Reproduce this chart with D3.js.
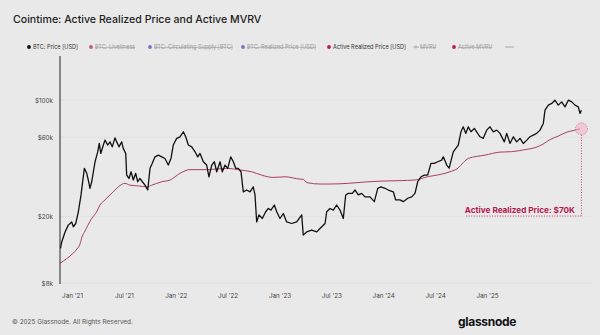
<!DOCTYPE html>
<html><head><meta charset="utf-8">
<script src="https://cdn.jsdelivr.net/npm/d3@7"></script>
<style>
html,body{margin:0;padding:0;background:#e9e9e9;}
svg{display:block;font-family:Inter,"Noto Sans",sans-serif;}
</style></head><body>
<div id="chart"></div>
<script>
// ---- data (time as decimal year, values in USD) ----
const priceYears = [2020.889,2020.901,2020.933,2020.964,2020.997,2021.013,2021.036,2021.061,2021.087,2021.119,2021.142,2021.157,2021.173,2021.190,2021.222,2021.248,2021.263,2021.277,2021.302,2021.318,2021.344,2021.366,2021.388,2021.414,2021.431,2021.453,2021.479,2021.494,2021.518,2021.527,2021.549,2021.569,2021.591,2021.614,2021.633,2021.655,2021.678,2021.704,2021.730,2021.752,2021.774,2021.800,2021.832,2021.865,2021.896,2021.928,2021.954,2021.976,2022.009,2022.041,2022.073,2022.096,2022.121,2022.154,2022.186,2022.212,2022.234,2022.266,2022.298,2022.320,2022.347,2022.372,2022.395,2022.427,2022.449,2022.475,2022.501,2022.530,2022.555,2022.578,2022.603,2022.629,2022.651,2022.684,2022.716,2022.747,2022.764,2022.780,2022.802,2022.834,2022.867,2022.892,2022.918,2022.950,2022.973,2023.005,2023.037,2023.069,2023.118,2023.166,2023.214,2023.229,2023.262,2023.310,2023.359,2023.390,2023.439,2023.455,2023.487,2023.519,2023.551,2023.583,2023.615,2023.638,2023.663,2023.702,2023.728,2023.760,2023.792,2023.824,2023.872,2023.914,2023.947,2023.978,2024.017,2024.049,2024.097,2024.120,2024.161,2024.193,2024.236,2024.274,2024.306,2024.332,2024.364,2024.396,2024.428,2024.460,2024.492,2024.525,2024.563,2024.579,2024.612,2024.635,2024.675,2024.723,2024.749,2024.771,2024.795,2024.820,2024.846,2024.878,2024.910,2024.933,2024.964,2024.997,2025.029,2025.061,2025.094,2025.125,2025.167,2025.190,2025.222,2025.254,2025.286,2025.318,2025.350,2025.383,2025.414,2025.446,2025.479,2025.511,2025.543,2025.559,2025.591,2025.624,2025.655,2025.687,2025.720,2025.752,2025.784,2025.817,2025.848,2025.880,2025.896,2025.910];
const priceUSD = [12900,14100,16200,17800,18600,17400,18200,21400,27000,39000,36400,33200,29600,32400,42700,49000,55000,47900,53800,57600,53800,56200,52500,59400,56200,52500,56200,51400,47900,35500,33900,37200,33200,36400,32400,33900,32400,30900,28900,39000,41800,45700,46800,45700,44700,40800,44700,53800,59000,60300,64600,60300,53800,52500,49000,45700,47900,42700,40800,34700,40800,42700,37200,42700,37200,40800,39000,45700,42700,39000,39000,37200,28200,28900,28200,30200,27000,18600,20500,19500,21400,22400,21900,23500,21400,19500,20900,18600,18200,18600,20500,15500,16200,16600,16200,17000,18200,21400,22400,21900,23500,21900,19500,27000,27600,27600,28900,27000,27600,26300,26300,24600,29600,30200,29600,28900,28200,25200,25200,24600,25800,26300,27600,32400,34700,35500,35500,41800,41800,42700,43700,45700,40800,39100,49000,53800,64600,69200,63200,69200,64600,67700,63200,60300,59000,66100,69200,64600,66100,63200,56200,63200,55000,60300,56200,59000,55000,57600,60300,61700,63200,66100,72500,87100,93400,95600,100000,93400,97700,91200,100000,97700,93400,91200,83300,87100];
const arpYears = [2020.884,2020.949,2021.013,2021.048,2021.077,2021.096,2021.125,2021.154,2021.190,2021.238,2021.270,2021.318,2021.398,2021.446,2021.511,2021.559,2021.639,2021.720,2021.768,2021.865,2021.945,2022.041,2022.137,2022.298,2022.491,2022.619,2022.732,2022.828,2022.940,2023.053,2023.198,2023.229,2023.265,2023.390,2023.487,2023.663,2023.824,2023.985,2024.161,2024.306,2024.434,2024.547,2024.643,2024.720,2024.771,2024.820,2024.981,2025.125,2025.238,2025.366,2025.463,2025.540,2025.607,2025.687,2025.768,2025.829,2025.896];
const arpUSD = [10500,11200,12100,12800,13700,15100,16400,17800,19500,21400,23500,25200,28200,30200,31700,30900,30600,30200,30900,32400,33200,36400,38300,38300,39000,38100,37200,35500,34400,34700,33600,33500,32000,31400,31400,31700,32300,32700,32900,33200,34800,35800,37200,39100,42200,44700,46800,48800,49100,50500,51900,54500,58000,60900,64300,65700,67300];
const yTickValues = [8000,20000,60000,100000];
const yTickLabels = ["$8k","$20k","$60k","$100k"];
const xTickYears = [2021,2021.5,2022,2022.5,2023,2023.5,2024,2024.5,2025];
const xTickLabels = ["Jan '21","Jul '21","Jan '22","Jul '22","Jan '23","Jul '23","Jan '24","Jul '24","Jan '25"];
const legendNames = ["BTC: Price [USD]","BTC: Liveliness","BTC: Circulating Supply [BTC]","BTC: Realized Price [USD]","Active Realized Price [USD]","MVRV","Active MVRV",""];
const legendColors = ["#111111","#b8607e","#7b74c4","#7b74c4","#c2185b","#999999","#c2185b","#999999"];
const legendActive = [true,false,false,false,true,false,false,false];
const annotationText = "Active Realized Price: $70K";

// ---- layout ----
const W = 600, H = 335;
const svg = d3.select("#chart").append("svg").attr("width", W).attr("height", H);
svg.append("rect").attr("width", W).attr("height", H).attr("fill", "#e9e9e9");

const x = d3.scaleLinear().domain([2021, 2025]).range([72, 487]);
const y = d3.scaleLog().domain([8000, 200000]).range([283, 50]);

// title
svg.append("text").attr("x", 13).attr("y", 23)
  .attr("font-size", 10.6).attr("font-weight", 500).attr("fill", "#222")
  .text("Cointime: Active Realized Price and Active MVRV");

// legend
const legendX = [29, 91, 150, 243, 329, 416, 454, 505];
const lg = svg.append("g").attr("font-size", 5.6);
legendNames.forEach((n, i) => {
  const g = lg.append("g").attr("transform", `translate(${legendX[i]},47)`);
  if (i === 5) {
    g.append("line").attr("x1", -3).attr("x2", 3).attr("y1", 0).attr("y2", 0).attr("stroke", "#999").attr("stroke-width", 0.8);
    g.append("line").attr("x1", 0).attr("x2", 0).attr("y1", -1.5).attr("y2", 1.5).attr("stroke", "#999").attr("stroke-width", 0.8);
  } else if (i === 7) {
    g.append("line").attr("x1", 0).attr("x2", 9).attr("y1", 0).attr("y2", 0).attr("stroke", "#999").attr("stroke-width", 0.8);
    return;
  } else {
    g.append("circle").attr("r", 1.9).attr("fill", legendColors[i]);
  }
  g.append("text").attr("x", 4).attr("y", 2)
    .attr("fill", legendActive[i] ? "#333" : "#9a9a9a")
    .attr("text-decoration", legendActive[i] ? null : "line-through")
    .text(n);
});

// gridlines
svg.append("g").selectAll("line").data(yTickValues).join("line")
  .attr("x1", 60).attr("x2", 592)
  .attr("y1", d => y(d)).attr("y2", d => y(d))
  .attr("stroke", "#dcdcdc").attr("stroke-width", 0.7);

// y axis
const yAxis = d3.axisLeft(y).tickValues(yTickValues).tickFormat((d, i) => yTickLabels[i]).tickSize(0).tickPadding(7);
const ya = svg.append("g").attr("transform", "translate(60,0)").call(yAxis);
ya.select(".domain").remove();
ya.selectAll("text").attr("font-size", 6.3).attr("fill", "#444").attr("font-family", "Inter,'Noto Sans',sans-serif");
svg.append("line").attr("x1", 60).attr("x2", 60).attr("y1", 56).attr("y2", 284)
  .attr("stroke", "#111").attr("stroke-width", 0.9);

// x axis
const xAxis = d3.axisBottom(x).tickValues(xTickYears).tickFormat((d, i) => xTickLabels[i]).tickSize(0).tickPadding(11);
const xa = svg.append("g").attr("transform", "translate(0,283)").call(xAxis);
xa.select(".domain").remove();
xa.selectAll("text").attr("font-size", 6.3).attr("fill", "#444").attr("font-family", "Inter,'Noto Sans',sans-serif");

// lines
const priceData = priceYears.map((t, i) => [t, priceUSD[i]]);
const arpData = arpYears.map((t, i) => [t, arpUSD[i]]);
const line = d3.line().x(d => x(d[0])).y(d => y(d[1]));
svg.append("path").datum(arpData).attr("d", line.curve(d3.curveMonotoneX))
  .attr("fill", "none").attr("stroke", "#a02d55").attr("stroke-width", 0.9);
svg.append("path").datum(priceData).attr("d", d3.line().x(d => x(d[0])).y(d => y(d[1])))
  .attr("fill", "none").attr("stroke", "#111").attr("stroke-width", 1.3).attr("stroke-linejoin", "round");

// annotation
const last = arpData[arpData.length - 1];
const cx = x(last[0]) + 1.5, cy = y(last[1]);
svg.append("line").attr("x1", cx).attr("x2", cx).attr("y1", cy + 6).attr("y2", 216)
  .attr("stroke", "#c2185b").attr("stroke-width", 0.8).attr("stroke-dasharray", "1,1.6");
svg.append("line").attr("x1", 466).attr("x2", cx).attr("y1", 216).attr("y2", 216)
  .attr("stroke", "#c2185b").attr("stroke-width", 0.8).attr("stroke-dasharray", "1,1.6");
svg.append("circle").attr("cx", cx).attr("cy", cy).attr("r", 6)
  .attr("fill", "#f3b5c8").attr("fill-opacity", 0.6)
  .attr("stroke", "#d9668f").attr("stroke-width", 0.8).attr("stroke-dasharray", "1.2,1.2");
svg.append("text").attr("x", 575).attr("y", 213).attr("text-anchor", "end")
  .attr("font-size", 8.2).attr("font-weight", 700).attr("fill", "#b5174f")
  .text(annotationText);

// footer
svg.append("text").attr("x", 12).attr("y", 324).attr("font-size", 6.4).attr("fill", "#555")
  .text("© 2025 Glassnode. All Rights Reserved.");
svg.append("text").attr("x", 458).attr("y", 326).attr("font-size", 12).attr("font-weight", 700)
  .attr("fill", "#111").attr("letter-spacing", -0.3).text("glassnode");
</script>
</body></html>
